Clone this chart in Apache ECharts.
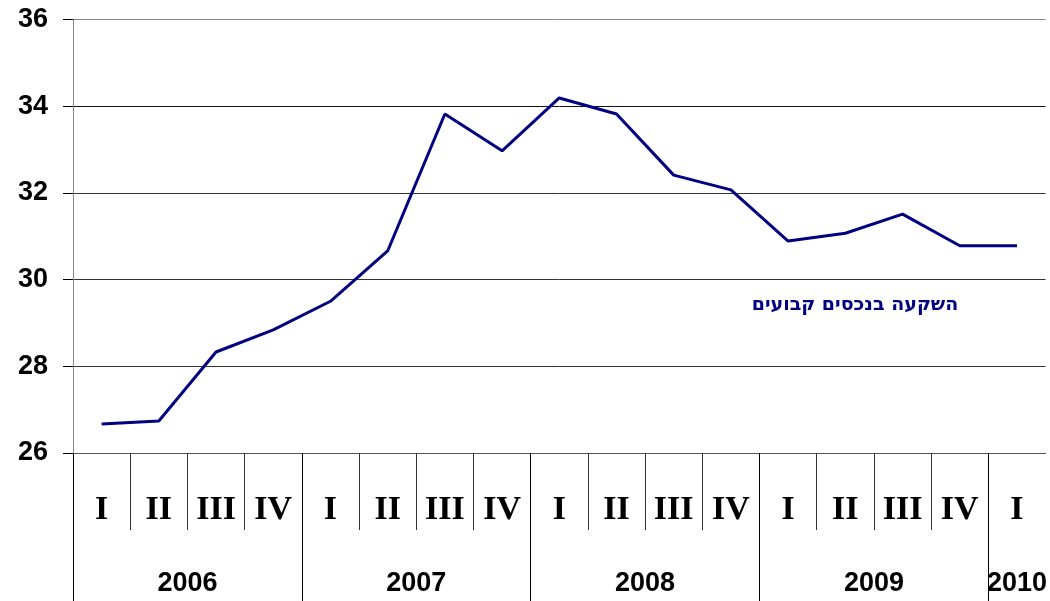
<!DOCTYPE html>
<html>
<head>
<meta charset="utf-8">
<script src="https://cdn.jsdelivr.net/npm/echarts@6/dist/echarts.min.js"></script>
<style>html,body{margin:0;padding:0;background:#fff}#c{width:1050px;height:601px}</style>
</head>
<body>
<div id="c"></div>
<script>
const quarters = ['I','II','III','IV','I','II','III','IV','I','II','III','IV','I','II','III','IV','I'];
const years = ['2006','2007','2008','2009','2010'];
const yearCenters = [2, 6, 10, 14, 16.5];
const yearBounds = [0, 4, 8, 12, 16];
const quarterBounds = [1,2,3,5,6,7,9,10,11,13,14,15];
const values = [26.67, 26.74, 28.33, 28.84, 29.50, 30.66, 33.82, 32.97, 34.19, 33.82, 32.41, 32.07, 30.89, 31.07, 31.51, 30.78, 30.78];
const seriesName = 'השקעה בנכסים קבועים';

const chart = echarts.init(document.getElementById('c'), null, {renderer: 'canvas'});
const grid = {left: 73, right: 3, top: 19.5, bottom: 148, containLabel: false};
chart.setOption({
  animation: false,
  grid: grid,
  xAxis: [
    {
      type: 'category', data: quarters, boundaryGap: true, position: 'bottom',
      axisLine: {show: true, lineStyle: {color: '#555', width: 1}},
      axisTick: {show: false},
      axisLabel: {
        interval: 0, margin: 40, fontFamily: 'Liberation Serif', fontWeight: 'bold',
        fontSize: 34, lineHeight: 34, color: '#000'
      },
      splitLine: {show: false}
    },
    {
      type: 'value', min: 0, max: 17, position: 'bottom',
      axisLine: {show: false},
      axisTick: {show: true, customValues: quarterBounds, length: 77, inside: false,
        lineStyle: {color: '#333', width: 1}},
      axisLabel: {show: false},
      splitLine: {show: false}
    },
    {
      type: 'value', min: 0, max: 17, position: 'bottom',
      axisLine: {show: false},
      axisTick: {show: true, customValues: yearBounds, length: 150, inside: false,
        lineStyle: {color: '#000', width: 1}},
      axisLabel: {
        show: true, customValues: yearCenters, margin: 117,
        formatter: function (v) { const i = yearCenters.indexOf(v); return i >= 0 ? years[i] : ''; },
        fontFamily: 'Liberation Sans', fontWeight: 'bold', fontSize: 27, lineHeight: 27, color: '#000'
      },
      splitLine: {show: false}
    }
  ],
  yAxis: [
    {
      type: 'value', min: 26, max: 36, interval: 2, position: 'left',
      axisLine: {show: true, lineStyle: {color: '#000', width: 1}},
      axisTick: {show: true, length: 10, inside: false, lineStyle: {color: '#000'}},
      axisLabel: {margin: 25, fontFamily: 'Liberation Sans', fontWeight: 'bold', fontSize: 27, color: '#000'},
      splitLine: {show: true, lineStyle: {color: ['#555', '#333', '#333', '#333', '#111', '#888'], width: 1}}
    },
    {
      type: 'value', min: 26, max: 36, interval: 2, position: 'right',
      axisLine: {show: true, lineStyle: {color: '#888', width: 1}},
      axisTick: {show: false}, axisLabel: {show: false}, splitLine: {show: false}
    }
  ],
  series: [{
    name: seriesName, type: 'line', xAxisIndex: 0, yAxisIndex: 0,
    data: values, symbol: 'none', smooth: false,
    lineStyle: {color: '#000080', width: 3}
  }],
  graphic: [{
    type: 'text', x: 855, y: 305,
    style: {
      text: seriesName, align: 'center', verticalAlign: 'middle',
      font: 'bold 19px "DejaVu Sans"', fill: '#000080'
    }
  }]
});
</script>
</body>
</html>
